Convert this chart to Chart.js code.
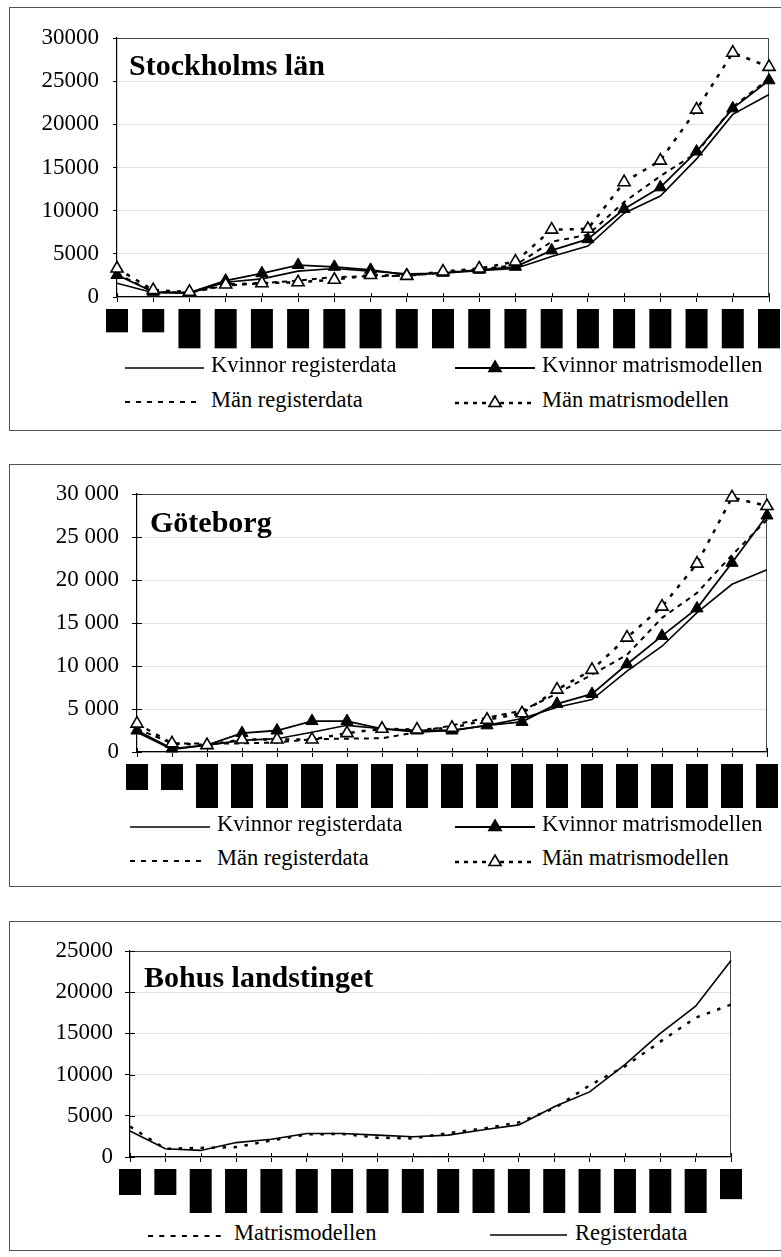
<!DOCTYPE html>
<html>
<head>
<meta charset="utf-8">
<script src="https://cdn.jsdelivr.net/npm/chart.js@4.4.1/dist/chart.umd.min.js"></script>
<style>
  html,body{margin:0;padding:0;background:#fff;}
  body{width:781px;height:1257px;overflow:hidden;position:relative;font-family:"Liberation Serif","Times New Roman",serif;}
  .frame{position:absolute;border:1px solid #555;box-sizing:border-box;}
  canvas{position:absolute;left:0;}
  .title{position:absolute;font-weight:bold;font-size:30px;line-height:30px;color:#000;white-space:nowrap;}
  .lg{position:absolute;font-size:22.5px;line-height:22.5px;color:#000;white-space:nowrap;}
  svg.smp{position:absolute;overflow:visible;}
</style>
</head>
<body>
<div class="frame" style="left:9px;top:7px;width:800px;height:424px;"></div>
<div class="frame" style="left:9px;top:464px;width:800px;height:423px;"></div>
<div class="frame" style="left:9px;top:921px;width:800px;height:330px;"></div>

<canvas id="c1" width="781" height="357" style="top:0px"></canvas>
<canvas id="c2" width="781" height="372" style="top:440px"></canvas>
<canvas id="c3" width="781" height="317" style="top:900px"></canvas>

<script>
// ---------------- data ----------------
const ageGroups = ['0-4','5-9','10-14','15-19','20-24','25-29','30-34','35-39','40-44','45-49','50-54','55-59','60-64','65-69','70-74','75-79','80-84','85-89','90-94'];
const ageGroupsBohus = ['0-4','5-9','10-14','15-19','20-24','25-29','30-34','35-39','40-44','45-49','50-54','55-59','60-64','65-69','70-74','75-79','80-84','85+'];

const seriesNames = ['Kvinnor registerdata','Kvinnor matrismodellen','Män registerdata','Män matrismodellen'];
const bohusNames = ['Matrismodellen','Registerdata'];

const titles = ['Stockholms län','Göteborg','Bohus landstinget'];

// Stockholms län
const sthKvinnorRegister = [1600,500,450,1700,2100,3000,3300,3000,2700,2750,3050,3300,4700,5900,9700,11700,16000,21150,23450];
const sthKvinnorMatris   = [2550,600,500,1900,2750,3700,3500,3150,2550,2800,3150,3500,5400,6700,10200,12700,16850,21850,25100];
const sthManRegister     = [2700,600,500,1300,1600,1900,2300,2400,2450,2800,3200,3700,6400,7200,11000,14000,16700,22000,25300];
const sthManMatris       = [3300,800,600,1450,1600,1700,2000,2550,2450,2950,3300,4100,7800,7900,13300,15800,21700,28300,26650];

// Göteborg
const gbgKvinnorRegister = [2300,300,800,1350,1550,2300,3100,2700,2300,2500,3100,3900,5200,6100,9400,12300,16200,19500,21200];
const gbgKvinnorMatris   = [2500,400,800,2200,2500,3600,3600,2700,2500,2500,3100,3500,5600,6750,10200,13500,16700,22000,27500];
const gbgManRegister     = [2700,1000,1000,1000,1100,1500,1550,1600,2300,3100,4000,4800,6800,9000,11300,15600,18500,22900,27000];
const gbgManMatris       = [3300,1000,800,1450,1450,1450,2200,2700,2600,2800,3750,4500,7250,9550,13300,16900,21900,29600,28600];

// Bohus landstinget
const bohusMatris   = [3700,1000,1100,1200,2000,2750,2800,2350,2250,2900,3450,4200,5900,8700,11000,14000,16900,18500];
const bohusRegister = [3150,1000,800,1750,2150,2850,2850,2650,2450,2650,3300,3900,6100,7900,11200,15000,18300,23850];

// y tick labels
const yTicksStockholm = ['0','5000','10000','15000','20000','25000','30000'];
const yTicksGoteborg  = ['0','5 000','10 000','15 000','20 000','25 000','30 000'];
const yTicksBohus     = ['0','5000','10000','15000','20000','25000'];

// ---------------- styles ----------------
const SERIF = "'Liberation Serif', 'Times New Roman', serif";
Chart.defaults.font.family = SERIF;
Chart.defaults.color = '#000';

const styleKvReg   = {borderColor:'#000', borderWidth:1.6, pointRadius:0, borderDash:[]};
const styleKvMat   = {borderColor:'#000', borderWidth:1.8, pointStyle:'triangle', pointRadius:7, pointBackgroundColor:'#000', pointBorderColor:'#000', pointBorderWidth:1};
const styleManReg  = {borderColor:'#000', borderWidth:2, pointRadius:0, borderDash:[5,5]};
const styleManMat  = {borderColor:'#000', borderWidth:2.5, borderDash:[4,7], pointStyle:'triangle', pointRadius:7, pointBackgroundColor:'#fff', pointBorderColor:'#000', pointBorderWidth:1.6};

// plot frame (top/right) and short inner tick marks crossing the axes
const framePlugin = {
  id:'plotFrame',
  beforeDatasetsDraw(chart, args, opts){
    const a = chart.chartArea, ctx = chart.ctx;
    ctx.save();
    ctx.strokeStyle = '#444'; ctx.lineWidth = 1;
    ctx.beginPath();
    ctx.moveTo(a.left, Math.round(a.top)+0.5);
    ctx.lineTo(Math.round(a.right)-0.5, Math.round(a.top)+0.5);
    ctx.lineTo(Math.round(a.right)-0.5, a.bottom);
    ctx.stroke();
    ctx.strokeStyle = '#000';
    ctx.beginPath();
    const xs = chart.scales.x, ys = chart.scales.y;
    for (let i = 0; i < xs.ticks.length; i++) {
      const px = Math.round(xs.getPixelForTick(i)) + 0.5;
      ctx.moveTo(px, a.bottom); ctx.lineTo(px, a.bottom - opts.xIn);
    }
    if (opts.yIn > 0) {
      for (let i = 0; i < ys.ticks.length; i++) {
        const py = Math.round(ys.getPixelForTick(i)) + 0.5;
        ctx.moveTo(a.left, py); ctx.lineTo(a.left + opts.yIn, py);
      }
    }
    ctx.stroke();
    ctx.restore();
  }
};

function makeChart(id, cfg){
  const ds = cfg.datasets.map(d => Object.assign({tension:0, clip:false, fill:false}, d.style, {label:d.label, data:d.data, order:d.order}));
  return new Chart(document.getElementById(id), {
    type:'line',
    data:{labels:cfg.labels, datasets:ds},
    options:{
      responsive:false, animation:false, devicePixelRatio:1,
      layout:{padding:{top:cfg.top, right:cfg.right, left:0, bottom:0}},
      plugins:{legend:{display:false}, tooltip:{enabled:false}, plotFrame:{xIn:4, yIn:cfg.yIn}},
      elements:{line:{borderJoinStyle:'miter'}},
      scales:{
        x:{
          offset:false,
          grid:{display:true, drawOnChartArea:false, tickLength:5, tickColor:'#000', tickWidth:1},
          border:{display:true, color:'#000', width:1.2},
          ticks:{
            autoSkip:false, minRotation:90, maxRotation:90, padding:8,
            labelOffset:-10,
            font:{family:SERIF, size:cfg.xFont, lineHeight:'20px'},
            color:'#000',
            showLabelBackdrop:true, backdropColor:'#000',
            backdropPadding:{top:1,bottom:1,left:1,right:1}
          },
          afterFit(s){ s.height = 60; s.paddingLeft = 0; s.paddingRight = 0; }
        },
        y:{
          min:0, max:cfg.max,
          grid:{color:'#e2e2e2', lineWidth:1, tickLength:cfg.tickLen, tickColor:'#000', tickWidth:1},
          border:{display:true, color:'#000', width:1.2},
          ticks:{
            stepSize:5000, padding:cfg.yPad, color:'#000',
            font:{family:SERIF, size:23},
            callback:(v,i)=>cfg.yLabels[i]
          },
          afterFit(s){ s.width = cfg.left; s.paddingTop = 0; s.paddingBottom = 0; }
        }
      }
    },
    plugins:[framePlugin]
  });
}

function buildAll(){
  makeChart('c1', {
    labels:ageGroups, top:38, right:12, left:117, max:30000, yLabels:yTicksStockholm, yPad:14, tickLen:4, yIn:0, xFont:16,
    datasets:[
      {label:seriesNames[3], data:sthManMatris, style:styleManMat, order:0},
      {label:seriesNames[1], data:sthKvinnorMatris, style:styleKvMat, order:1},
      {label:seriesNames[2], data:sthManRegister, style:styleManReg, order:2},
      {label:seriesNames[0], data:sthKvinnorRegister, style:styleKvReg, order:3}
    ]
  });
  makeChart('c2', {
    labels:ageGroups, top:54, right:14, left:137, max:30000, yLabels:yTicksGoteborg, yPad:13, tickLen:5, yIn:5, xFont:18,
    datasets:[
      {label:seriesNames[3], data:gbgManMatris, style:styleManMat, order:0},
      {label:seriesNames[1], data:gbgKvinnorMatris, style:styleKvMat, order:1},
      {label:seriesNames[2], data:gbgManRegister, style:styleManReg, order:2},
      {label:seriesNames[0], data:gbgKvinnorRegister, style:styleKvReg, order:3}
    ]
  });
  makeChart('c3', {
    labels:ageGroupsBohus, top:51, right:50, left:130, max:25000, yLabels:yTicksBohus, yPad:12, tickLen:5, yIn:5, xFont:18,
    datasets:[
      {label:bohusNames[1], data:bohusRegister, style:{borderColor:'#000', borderWidth:1.6, pointRadius:0}, order:0},
      {label:bohusNames[0], data:bohusMatris, style:{borderColor:'#000', borderWidth:2.5, pointRadius:0, borderDash:[3.5,7.5]}, order:1}
    ]
  });
}

// ---------------- titles & legends (HTML) ----------------
function addTitle(text, left, baseline){
  const d = document.createElement('div');
  d.className = 'title'; d.textContent = text;
  d.style.left = left + 'px'; d.style.top = (baseline - 0.8375*30) + 'px';
  document.body.appendChild(d);
}
addTitle(titles[0], 129, 75);
addTitle(titles[1], 150, 532);
addTitle(titles[2], 144, 987);

function addLegend(text, sx1, sx2, sy, tx, baseline, kind){
  const NS = 'http://www.w3.org/2000/svg';
  const svg = document.createElementNS(NS, 'svg');
  svg.setAttribute('class','smp');
  svg.setAttribute('width', sx2 - sx1 + 20); svg.setAttribute('height', 30);
  svg.style.left = (sx1 - 10) + 'px'; svg.style.top = (sy - 15) + 'px';
  const ln = document.createElementNS(NS, 'line');
  ln.setAttribute('x1', 10); ln.setAttribute('x2', 10 + sx2 - sx1);
  ln.setAttribute('y1', 15); ln.setAttribute('y2', 15);
  ln.setAttribute('stroke', '#000');
  const k = kind;
  if (k === 'kvreg') { ln.setAttribute('stroke-width', 1.6); }
  if (k === 'kvmat') { ln.setAttribute('stroke-width', 1.8); }
  if (k === 'manreg') { ln.setAttribute('stroke-width', 2); ln.setAttribute('stroke-dasharray', '5 6'); }
  if (k === 'manmat') { ln.setAttribute('stroke-width', 2.5); ln.setAttribute('stroke-dasharray', '4 5'); }
  if (k === 'dot') { ln.setAttribute('stroke-width', 2); ln.setAttribute('stroke-dasharray', '5 6.3'); }
  svg.appendChild(ln);
  if (k === 'kvmat' || k === 'manmat') {
    const cx = 10 + (sx2 - sx1)/2, cy = 15, r = 7;
    const tri = document.createElementNS(NS, 'polygon');
    tri.setAttribute('points', `${cx},${cy-r} ${cx+r*0.866},${cy+r*0.5} ${cx-r*0.866},${cy+r*0.5}`);
    tri.setAttribute('fill', k === 'kvmat' ? '#000' : '#fff');
    tri.setAttribute('stroke', '#000'); tri.setAttribute('stroke-width', 1.6);
    svg.appendChild(tri);
  }
  document.body.appendChild(svg);
  const d = document.createElement('div');
  d.className = 'lg'; d.textContent = text;
  d.style.left = tx + 'px'; d.style.top = (baseline - 0.8375*22.5) + 'px';
  document.body.appendChild(d);
}
// Stockholms län legend
addLegend(seriesNames[0], 125, 204, 368, 211, 373, 'kvreg');
addLegend(seriesNames[1], 455, 535, 368, 542, 373, 'kvmat');
addLegend(seriesNames[2], 125, 200, 402, 211, 408, 'manreg');
addLegend(seriesNames[3], 455, 535, 403, 542, 408, 'manmat');
// Göteborg legend
addLegend(seriesNames[0], 130, 210, 827, 217, 832, 'kvreg');
addLegend(seriesNames[1], 455, 535, 827, 542, 832, 'kvmat');
addLegend(seriesNames[2], 130, 205, 861, 217, 866, 'manreg');
addLegend(seriesNames[3], 455, 535, 862, 542, 866, 'manmat');
// Bohus legend
addLegend(bohusNames[0], 148, 222, 1236, 234, 1241, 'dot');
addLegend(bohusNames[1], 490, 567, 1235, 575, 1241, 'kvreg');

if (document.fonts && document.fonts.load) {
  Promise.all([
    document.fonts.load("22px 'Liberation Serif'"),
    document.fonts.load("bold 30px 'Liberation Serif'")
  ]).then(buildAll, buildAll);
} else {
  buildAll();
}
</script>
</body>
</html>
